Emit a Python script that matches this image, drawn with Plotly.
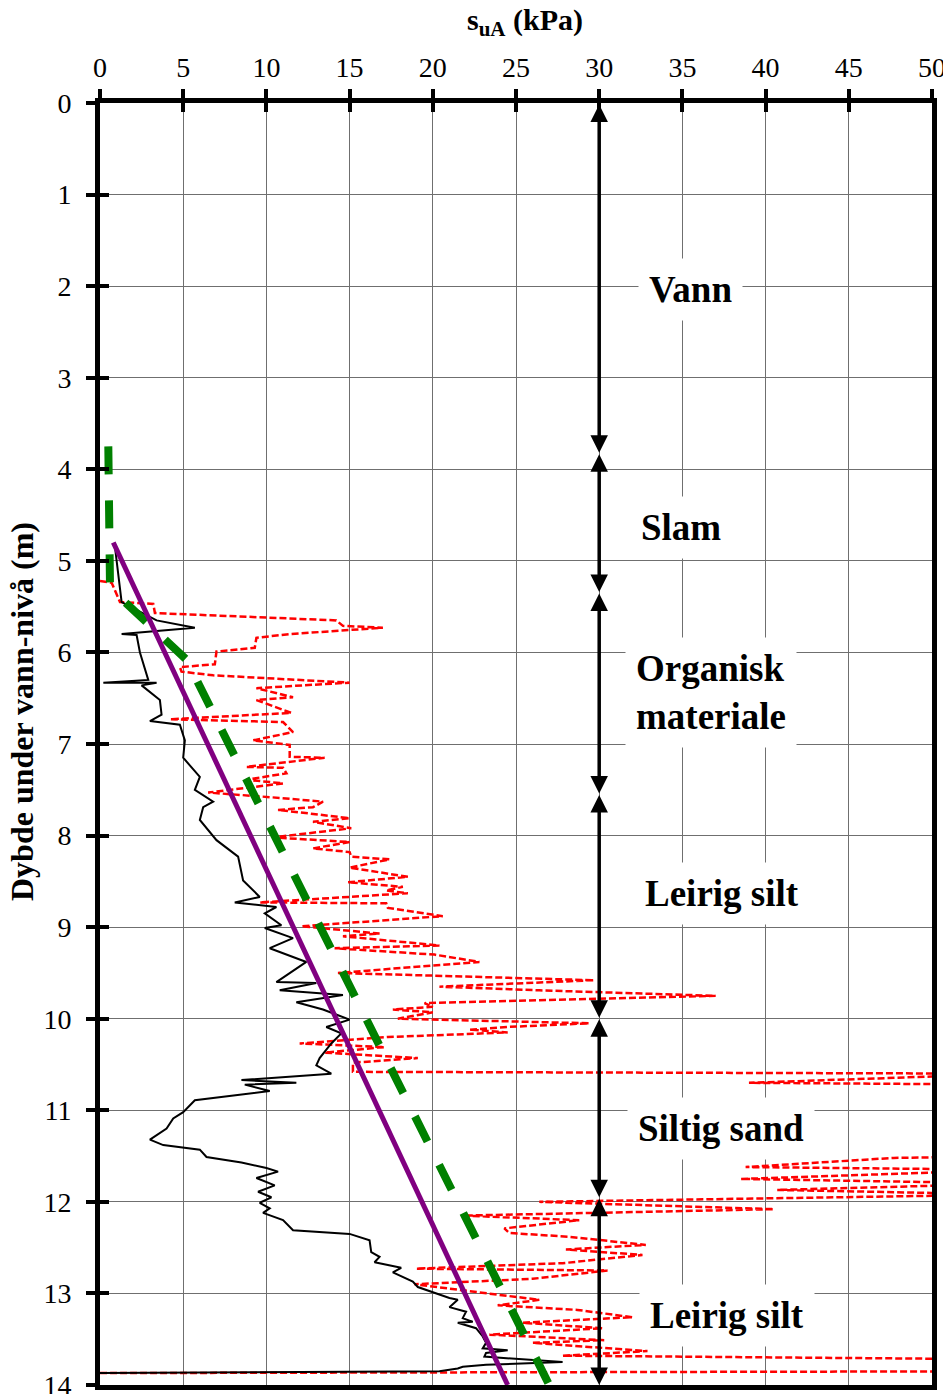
import plotly.graph_objects as go

# ---------------- data ----------------
# Black solid profile (s_uA, depth)
black_su = [0.9, 1.0, 1.2, 1.3, 3.4, 5.7, 1.3, 2.2, 2.4, 2.9, 0.2, 3.4, 2.5, 3.6, 3.7, 3.0, 4.8, 5.1, 5.0,
            6.0, 5.7, 6.8, 6.2, 6.0, 7.0, 8.3, 8.6, 9.6, 8.1, 10.6, 9.9, 10.9, 9.9, 11.6, 10.2, 12.4, 10.6,
            13.0, 10.8, 14.6, 11.8, 13.4, 15.0, 13.6, 14.5, 13.9, 13.2, 13.0, 13.9, 8.5, 11.8, 8.7, 10.2,
            5.7, 5.0, 4.4, 4.0, 3.0, 3.8, 6.0, 6.4, 8.5, 10.0, 10.7, 9.4, 10.5, 9.5, 10.3, 9.6, 10.2, 9.8,
            11.0, 11.6, 15.0, 16.2, 16.3, 16.8, 16.5, 18.1, 17.6, 18.8, 19.1, 21.0, 21.5, 21.0, 22.0, 21.8,
            22.4, 21.5, 22.6, 23.0, 23.2, 23.0, 24.5, 23.2, 23.1, 27.8, 23.2, 21.8, 21.5, 20.4, 0.0]
black_depth = [4.85, 5.0, 5.29, 5.45, 5.65, 5.73, 5.80, 5.81, 6.0, 6.3, 6.33, 6.33, 6.36, 6.52, 6.68, 6.75,
               6.79, 6.96, 7.15, 7.36, 7.50, 7.63, 7.69, 7.83, 8.05, 8.23, 8.49, 8.67, 8.73, 8.78, 8.85,
               8.98, 9.01, 9.12, 9.23, 9.38, 9.60, 9.61, 9.69, 9.74, 9.82, 9.90, 10.01, 10.09, 10.16, 10.27,
               10.43, 10.51, 10.60, 10.67, 10.70, 10.72, 10.79, 10.89, 11.02, 11.09, 11.20, 11.32, 11.38,
               11.43, 11.51, 11.57, 11.63, 11.67, 11.74, 11.82, 11.89, 11.95, 12.01, 12.07, 12.12, 12.20,
               12.31, 12.35, 12.42, 12.55, 12.60, 12.66, 12.72, 12.77, 12.87, 12.93, 13.05, 13.07, 13.15,
               13.20, 13.27, 13.31, 13.32, 13.38, 13.47, 13.54, 13.60, 13.62, 13.65, 13.69, 13.75, 13.78,
               13.80, 13.82, 13.85, 13.87]

# Red dashed profile (s_uA, depth)
red_su = [0.0, 0.7, 1.2, 3.2, 3.3, 14.2, 14.6, 17.0, 11.4, 9.4, 9.3, 7.0, 6.9, 4.8, 4.9, 6.8, 15.0, 9.4,
          11.6, 9.4, 11.5, 4.2, 11.0, 11.6, 9.2, 11.4, 11.4, 13.5, 8.8, 11.0, 11.2, 8.8, 11.0, 6.5, 10.9,
          13.4, 12.8, 10.7, 15.0, 12.8, 15.1, 10.4, 15.0, 12.8, 15.0, 15.1, 17.4, 15.0, 18.5, 14.9, 18.2,
          17.2, 18.5, 14.9, 9.6, 17.2, 17.3, 20.6, 12.1, 16.8, 14.6, 20.4, 14.1, 20.1, 22.8, 14.3, 29.7,
          20.4, 26.4, 37.0, 19.5, 20.0, 17.6, 20.0, 17.9, 29.4, 24.5, 22.2, 24.5, 17.3, 12.0, 17.1, 13.5,
          19.1, 15.2, 15.2, 55.0, 39.0, 55.0, 55.0, 47.7, 38.8, 55.0, 38.5, 55.0, 40.7, 55.0, 26.4, 40.5,
          21.8, 28.8, 24.3, 24.6, 28.1, 32.8, 28.0, 32.6, 27.8, 19.0, 30.5, 26.0, 18.9, 26.4, 23.9, 28.7,
          32.0, 25.4, 30.2, 23.4, 30.3, 26.0, 32.9, 27.8, 55.0, 55.0, 0.0]
red_depth = [5.22, 5.24, 5.45, 5.47, 5.57, 5.65, 5.71, 5.73, 5.80, 5.84, 5.95, 5.99, 6.13, 6.16, 6.21, 6.25,
             6.33, 6.39, 6.49, 6.52, 6.66, 6.73, 6.76, 6.87, 6.96, 7.01, 7.14, 7.15, 7.25, 7.26, 7.32, 7.39,
             7.43, 7.53, 7.59, 7.63, 7.69, 7.72, 7.81, 7.85, 7.92, 8.02, 8.07, 8.14, 8.18, 8.23, 8.26, 8.35,
             8.45, 8.51, 8.56, 8.60, 8.63, 8.67, 8.73, 8.74, 8.79, 8.88, 8.99, 9.07, 9.10, 9.20, 9.23, 9.30,
             9.38, 9.50, 9.58, 9.65, 9.69, 9.75, 9.83, 9.87, 9.90, 9.93, 10.00, 10.05, 10.09, 10.12, 10.15,
             10.20, 10.27, 10.31, 10.37, 10.43, 10.48, 10.58, 10.60, 10.70, 10.72, 11.50, 11.52, 11.62,
             11.65, 11.75, 11.80, 11.87, 11.92, 12.00, 12.08, 12.15, 12.20, 12.29, 12.34, 12.38, 12.47,
             12.52, 12.58, 12.67, 12.73, 12.75, 12.84, 12.90, 13.07, 13.13, 13.18, 13.26, 13.32, 13.38,
             13.45, 13.51, 13.54, 13.63, 13.68, 13.72, 13.85, 13.87]

# Green dashed design line
green_su = [0.5, 0.6, 1.5, 2.8, 4.2, 5.2, 27.0]
green_depth = [3.75, 5.25, 5.45, 5.67, 5.90, 6.08, 14.0]

# Purple linear trend
purple_su = [0.8, 24.5]
purple_depth = [4.80, 14.0]

# Layer boundaries (depth) and labels
layer_bounds = [0.0, 3.82, 5.34, 7.54, 9.99, 11.95, 14.0]
arrow_x = 30
label_text = ["Vann", "Slam", "Organisk<br>materiale", "Leirig silt", "Siltig sand", "Leirig silt"]
label_x = [35.5, 34.9, 36.7, 37.4, 37.3, 37.7]
label_y = [2.04, 4.64, 6.44, 8.63, 11.2, 13.24]

x_ticks = list(range(0, 51, 5))
y_ticks = list(range(0, 15))

FONT = "Liberation Serif, Times New Roman, serif"

# page body has an 8px default margin -> compensate so the plot area sits at x 100..932, y 103..1385
PAGE_OFF = 8

fig = go.Figure()
fig.add_trace(go.Scatter(x=red_su, y=red_depth, mode="lines",
                         line=dict(color="#ff0000", width=2.5, dash="7px,3px"), showlegend=False))
fig.add_trace(go.Scatter(x=black_su, y=black_depth, mode="lines",
                         line=dict(color="black", width=2), showlegend=False))
fig.add_trace(go.Scatter(x=green_su, y=green_depth, mode="lines",
                         line=dict(color="#008000", width=8, dash="28px,26px"), showlegend=False))
fig.add_trace(go.Scatter(x=purple_su, y=purple_depth, mode="lines",
                         line=dict(color="#800080", width=5), showlegend=False))
# invisible trace to anchor the overlay (inside-tick) axes
fig.add_trace(go.Scatter(x=[x_ticks[0]], y=[y_ticks[0]], xaxis="x2", yaxis="y2", mode="markers",
                         marker=dict(opacity=0), showlegend=False, hoverinfo="skip"))

annotations = []
for i in range(len(layer_bounds) - 1):
    annotations.append(dict(x=arrow_x, y=layer_bounds[i + 1], ax=arrow_x, ay=layer_bounds[i],
                            xref="x", yref="y", axref="x", ayref="y", text="", showarrow=True,
                            arrowhead=2, arrowside="end+start", arrowsize=1.0, arrowwidth=3.5,
                            arrowcolor="black", standoff=0, startstandoff=0))
for t, lx, ly in zip(label_text, label_x, label_y):
    annotations.append(dict(x=lx, y=ly, xref="x", yref="y", text="<b>" + t + "</b>", showarrow=False,
                            font=dict(family=FONT, size=37, color="black"), bgcolor="white",
                            borderpad=10, align="left"))
annotations.append(dict(x=(525 - 100) / 832, y=(1385 - 22) / 1282, xref="paper", yref="paper",
                        xanchor="center", yanchor="middle",
                        text="<b>s<sub>uA</sub> (kPa)</b>", showarrow=False,
                        font=dict(family=FONT, size=30, color="black")))
annotations.append(dict(x=(22 - 100) / 832, y=(1385 - 712) / 1282, xref="paper", yref="paper",
                        xanchor="center", yanchor="middle",
                        text="<b>Dybde under vann-nivå (m)</b>", showarrow=False, textangle=-90,
                        font=dict(family=FONT, size=32, color="black")))

axis_common = dict(showline=True, linewidth=5, linecolor="black", mirror=True, automargin=False,
                   showgrid=True, gridcolor="#6f6f6f", gridwidth=1, zeroline=False,
                   ticks="outside", ticklen=9, tickwidth=4, tickcolor="black",
                   tickfont=dict(family=FONT, size=28, color="black"))
overlay_common = dict(ticks="inside", ticklen=9, tickwidth=4, tickcolor="black", automargin=False,
                      showticklabels=False, showgrid=False, zeroline=False, showline=False)

fig.update_layout(
    width=951, height=1394,
    margin=dict(l=100 - PAGE_OFF, r=19 + PAGE_OFF, t=103 - PAGE_OFF, b=9 + PAGE_OFF),
    paper_bgcolor="white", plot_bgcolor="white",
    xaxis=dict(range=[0, 50], side="top", tickvals=x_ticks, ticklabelstandoff=1, **axis_common),
    yaxis=dict(range=[14, 0], tickvals=y_ticks, ticklabelstandoff=9, **axis_common),
    xaxis2=dict(overlaying="x", side="top", range=[0, 50], tickvals=x_ticks, **overlay_common),
    yaxis2=dict(overlaying="y", side="left", range=[14, 0], tickvals=y_ticks, **overlay_common),
    annotations=annotations,
    showlegend=False,
)

fig.write_html("out.html")
